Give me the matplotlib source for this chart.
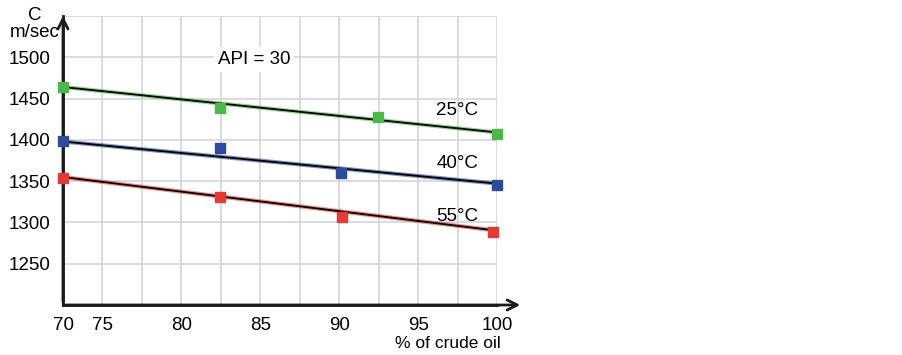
import numpy as np
import matplotlib
matplotlib.use("Agg")
import matplotlib.pyplot as plt

plt.rcParams['font.family'] = ['Liberation Sans', 'DejaVu Sans']

# x positions on the chart (the first tick is labelled 70 but sits one grid step before 75)
x_pts = {
    "25°C": [72.5, 82.45, 92.45, 100.0],
    "40°C": [72.5, 82.45, 90.1, 100.0],
    "55°C": [72.5, 82.45, 90.2, 99.75],
}
y_pts = {
    "25°C": [1464, 1439, 1428, 1407],
    "40°C": [1399, 1390, 1360, 1345],
    "55°C": [1354, 1331, 1307, 1289],
}
# fitted lines: value at left axis and at 100
line_ends = {
    "25°C": [1464, 1409],
    "40°C": [1398, 1347],
    "55°C": [1355, 1290],
}
colors = {"25°C": "#4cb848", "40°C": "#2c4b9b", "55°C": "#e53935"}
label_pos = {"25°C": (98.8, 1435), "40°C": (98.8, 1371), "55°C": (98.8, 1307)}

x_ticks = [72.5, 75, 80, 85, 90, 95, 100]
x_labels = ["70", "75", "80", "85", "90", "95", "100"]
y_ticks = [1250, 1300, 1350, 1400, 1450, 1500]

fig = plt.figure(figsize=(9.03, 3.55), dpi=100)
ax = fig.add_axes([63/903, 50/355, 434/903, 289/355])

ax.set_xlim(72.5, 100)
ax.set_ylim(1200, 1550)
ax.set_xticks(x_ticks)
ax.set_xticklabels(x_labels)
ax.set_yticks(y_ticks)
# grid lines every 2.5 % and every 50 m/sec
for gx in np.arange(72.5, 100.1, 2.5):
    ax.axvline(gx, color="#d4d4dc", linewidth=1.2, zorder=0)
for gy in np.arange(1250, 1551, 50):
    ax.axhline(gy, color="#d4d4dc", linewidth=1.2, zorder=0)
ax.tick_params(which="both", length=0, labelsize=13.5, pad=9)
for s in ["top", "right"]:
    ax.spines[s].set_visible(False)
for s in ["left", "bottom"]:
    ax.spines[s].set_linewidth(2)
    ax.spines[s].set_color("#1a1a1a")

for key in x_pts:
    xl = [72.5, 100]
    ax.plot(xl, line_ends[key], color=colors[key], linewidth=3, alpha=0.6, zorder=2)
    ax.plot(xl, line_ends[key], color="black", linewidth=1.3, zorder=3)
    ax.plot(x_pts[key], y_pts[key], "s", color=colors[key], markersize=6.5,
            zorder=4, clip_on=False)
    ax.text(*label_pos[key], key, fontsize=13.5, ha="right", va="center")

ax.text(84.6, 1497, "API = 30", fontsize=13.5, ha="center", va="center",
        bbox=dict(facecolor="white", edgecolor="none", pad=3))

# arrows on the axes
ax.annotate("", xy=(1.06, 0), xytext=(0, 0), xycoords="axes fraction",
            arrowprops=dict(arrowstyle="->", color="#1a1a1a", lw=2,
                            mutation_scale=18), annotation_clip=False)
ax.annotate("", xy=(0, 1.01), xytext=(0, 0), xycoords="axes fraction",
            arrowprops=dict(arrowstyle="->", color="#1a1a1a", lw=2,
                            mutation_scale=18), annotation_clip=False)

fig.text(35/903, 1 - 24/355, "C\nm/sec", fontsize=13.5, ha="center", va="center",
         linespacing=1.05)
fig.text(448/903, 1 - 343/355, "% of crude oil", fontsize=12.5, ha="center",
         va="center")

fig.savefig("out.png", dpi=100)
